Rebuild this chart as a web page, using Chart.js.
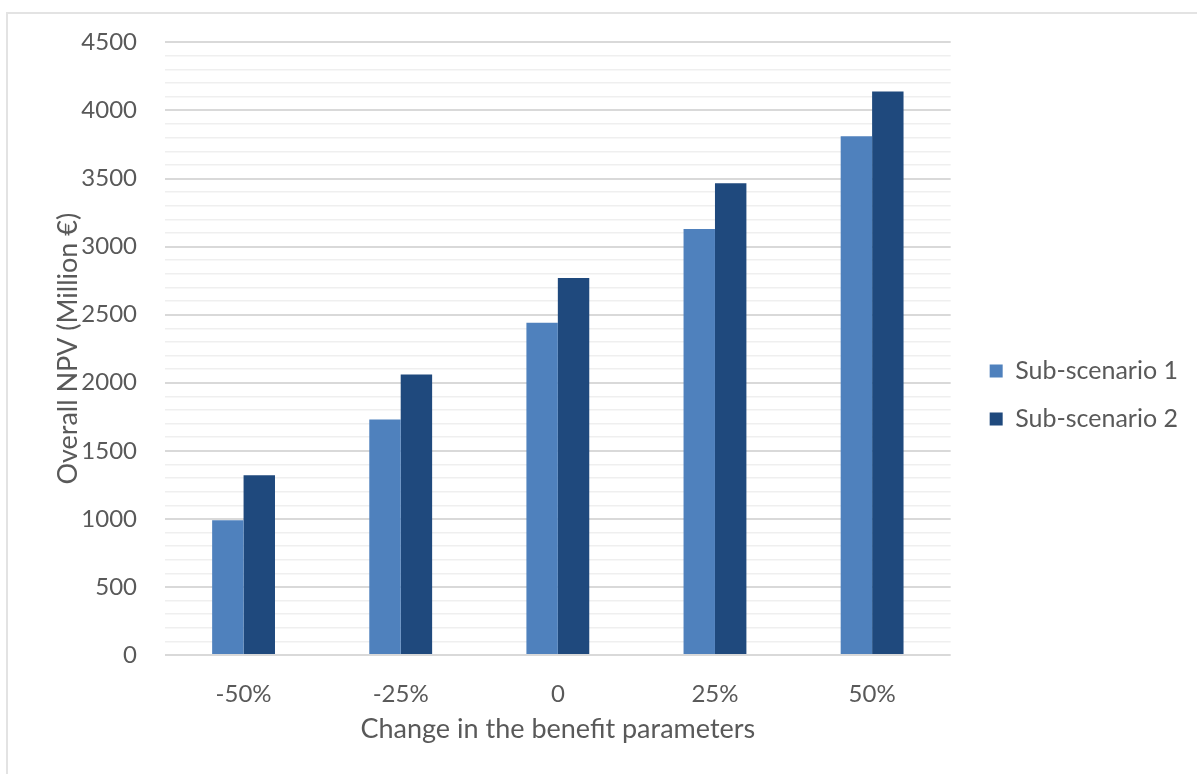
<!DOCTYPE html>
<html>
<head>
<meta charset="utf-8">
<script src="https://cdn.jsdelivr.net/npm/chart.js@4/dist/chart.umd.min.js"></script>
<style>
    body { margin: 0; background: #fff; overflow: hidden; }
    #marco { position: absolute; left: 6px; top: 12px; width: 1300px; height: 900px; border: 2px solid #e3e3e3; }
    #grafica { position: absolute; left: 0; top: 0; }
</style>
</head>
<body>
<div id="marco"></div>
<canvas id="grafica" width="1197" height="774"></canvas>
<script>
const categorias = ['-50%', '-25%', '0', '25%', '50%'];
const subEscenario1 = [990, 1730, 2440, 3130, 3810];
const subEscenario2 = [1320, 2060, 2770, 3465, 4140];
const nombresSeries = ['Sub-scenario 1', 'Sub-scenario 2'];
const tituloX = 'Change in the benefit parameters';
const tituloY = 'Overall NPV (Million €)';
const ejeYMax = 4500;
const pasoMayor = 500;
const pasoMenor = 100;

const gris = '#595959';
const fuente = 'Lato';

const ctx = document.getElementById('grafica').getContext('2d');
let chart = new Chart(ctx, {
    type: 'bar',
    data: {
        labels: categorias,
        datasets: [{
            label: nombresSeries[0],
            data: subEscenario1,
            backgroundColor: '#4f81bd',
            categoryPercentage: 0.4,
            barPercentage: 1.0
        }, {
            label: nombresSeries[1],
            data: subEscenario2,
            backgroundColor: '#1f497d',
            categoryPercentage: 0.4,
            barPercentage: 1.0
        }]
    },
    options: {
        responsive: false,
        animation: false,
        layout: {
            padding: { top: 42, right: 9, bottom: 26, left: 0 }
        },
        plugins: {
            legend: {
                position: 'right',
                maxWidth: 300,
                labels: {
                    boxWidth: 13,
                    boxHeight: 13,
                    padding: 23,
                    color: gris,
                    font: { family: fuente, size: 25 }
                }
            },
            tooltip: { enabled: false }
        },
        scales: {
            x: {
                grid: { display: false, drawTicks: false },
                border: { display: false },
                ticks: {
                    color: gris,
                    padding: 25,
                    font: { family: fuente, size: 24 }
                },
                title: {
                    display: true,
                    text: tituloX,
                    color: gris,
                    padding: { top: 0, bottom: 3 },
                    font: { family: fuente, size: 27 }
                },
                afterFit: (escala) => { escala.height = 93; }
            },
            y: {
                min: 0,
                max: ejeYMax,
                border: { display: false },
                grid: {
                    drawTicks: false,
                    color: (c) => c.tick.value % pasoMayor === 0 ? '#d9d9d9' : '#efefef',
                    lineWidth: (c) => c.tick.value % pasoMayor === 0 ? 2 : 1.5
                },
                ticks: {
                    stepSize: pasoMenor,
                    autoSkip: false,
                    padding: 28,
                    color: gris,
                    font: { family: fuente, size: 24 },
                    callback: (valor) => valor % pasoMayor === 0 ? valor : ''
                },
                title: {
                    display: true,
                    text: tituloY,
                    color: gris,
                    padding: { top: 52, bottom: 0 },
                    font: { family: fuente, size: 27 }
                },
                afterFit: (escala) => { escala.width = 165; }
            },
            // eje vacio para dejar hueco entre el grafico y la leyenda
            margen: {
                type: 'linear',
                position: 'right',
                grid: { drawOnChartArea: false, drawTicks: false },
                border: { display: false },
                ticks: { display: false },
                afterFit: (escala) => { escala.width = 16; }
            }
        }
    }
});
</script>
</body>
</html>
